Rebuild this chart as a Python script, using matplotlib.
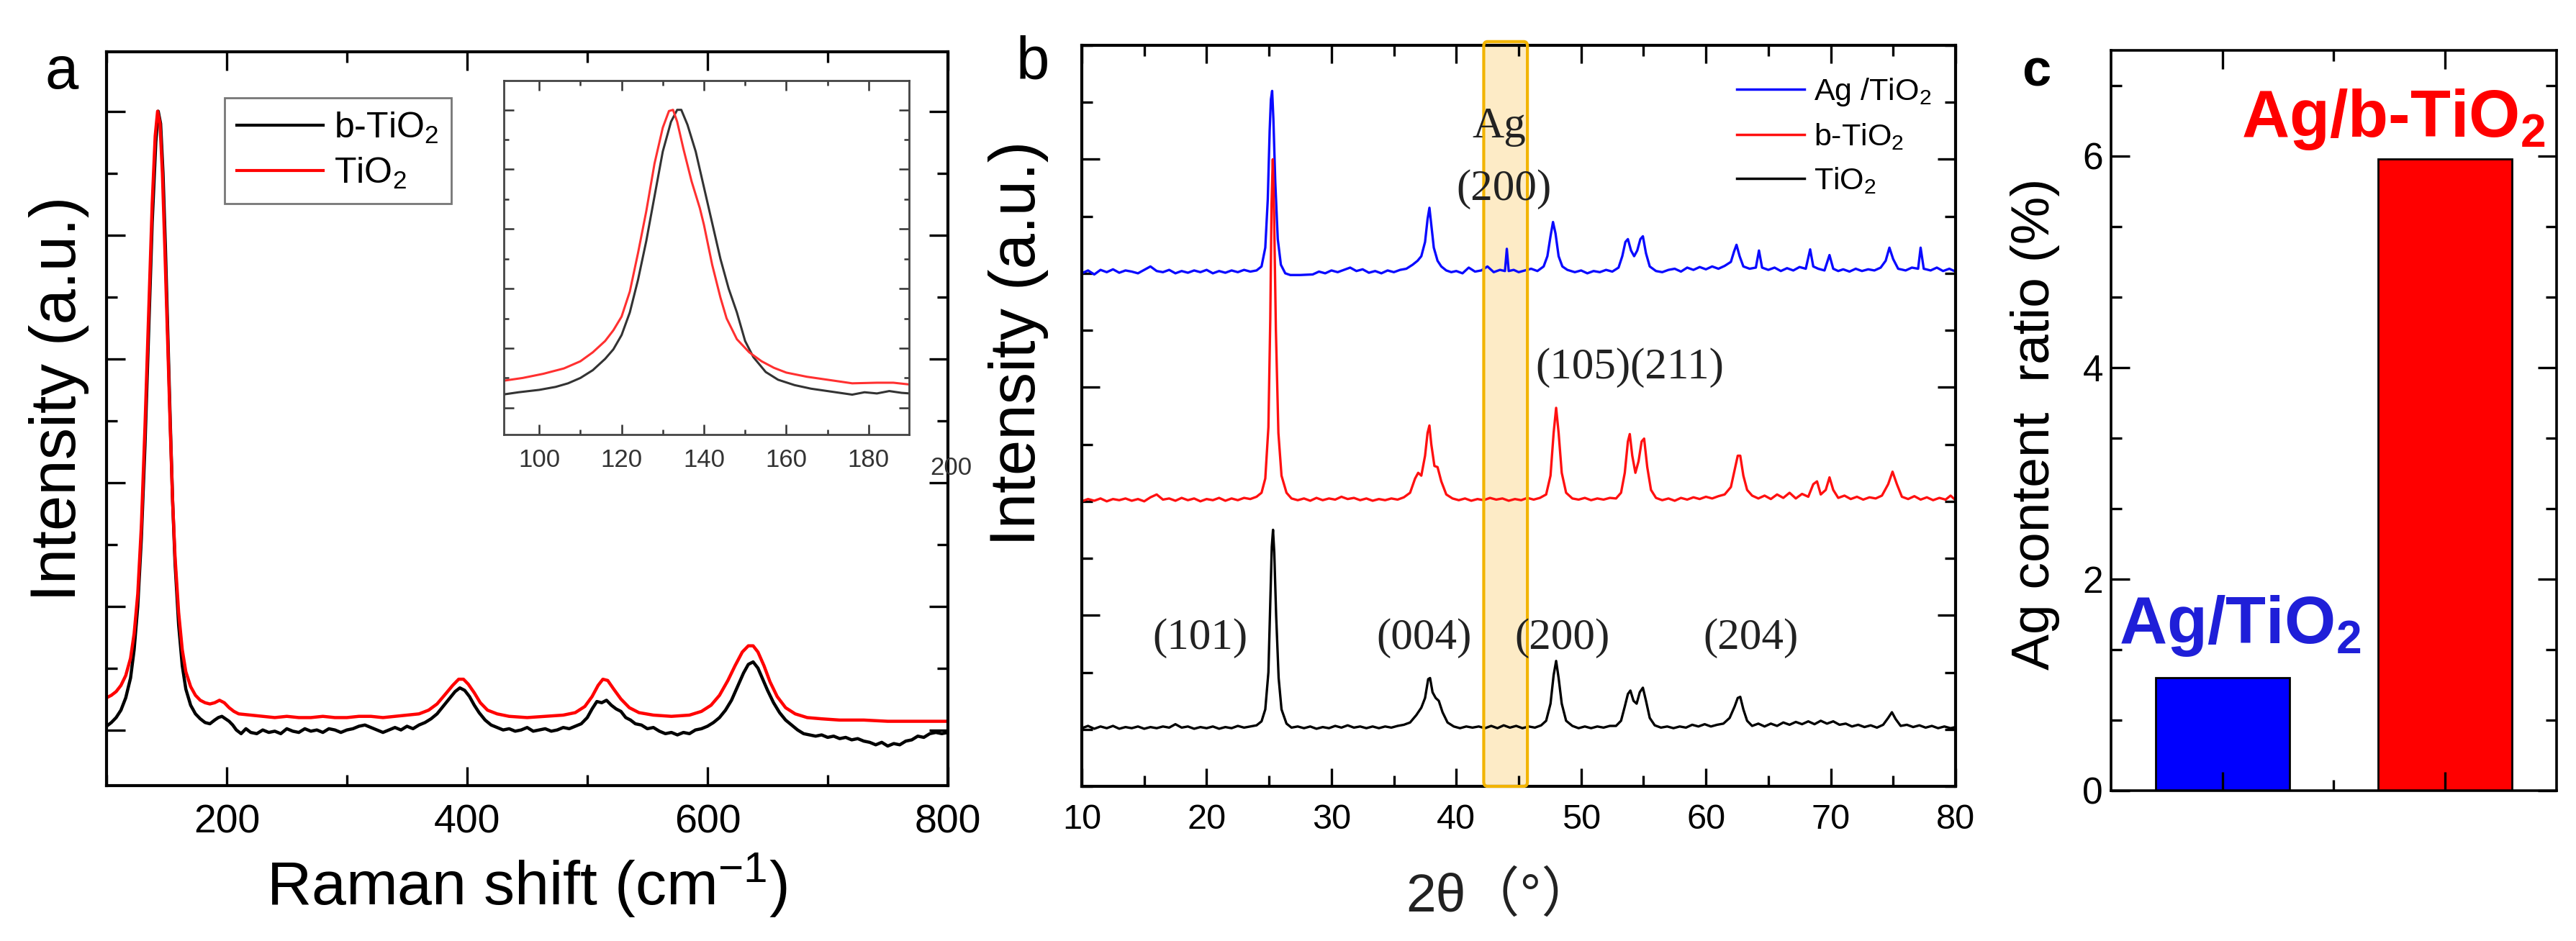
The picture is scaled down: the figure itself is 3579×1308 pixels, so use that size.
import numpy as np
import matplotlib
matplotlib.use('Agg')
import matplotlib.pyplot as plt
import matplotlib.transforms as mtransforms
from matplotlib.ticker import MultipleLocator, NullFormatter
from matplotlib.patches import FancyBboxPatch

plt.rcParams['font.family'] = ['Liberation Sans', 'Noto Sans CJK SC', 'DejaVu Sans']
plt.rcParams['mathtext.fontset'] = 'custom'
plt.rcParams['mathtext.rm'] = 'Liberation Sans'
plt.rcParams['mathtext.it'] = 'Liberation Sans:italic'
plt.rcParams['mathtext.bf'] = 'Liberation Sans:bold'

# ---------------- panel a : Raman ----------------
raman_x_b = [100, 104, 108, 112, 116, 120, 123, 126, 129, 132, 135, 138, 141, 143, 145, 147, 149, 151, 153, 155,
             157, 160, 163, 166, 170, 174, 178, 182, 186, 190, 193, 196, 199, 202, 205, 208, 212, 216, 220, 225,
             230, 235, 240, 245, 250, 255, 260, 265, 270, 275, 280, 285, 290, 295, 300, 305, 310, 315, 320, 325,
             330, 335, 340, 345, 350, 355, 360, 365, 370, 375, 380, 385, 390, 394, 398, 402, 406, 410, 415, 420,
             425, 430, 435, 440, 445, 450, 455, 460, 465, 470, 475, 480, 485, 490, 495, 500, 504, 508, 512, 516,
             520, 524, 528, 532, 536, 540, 545, 550, 555, 560, 565, 570, 575, 580, 585, 590, 595, 600, 605, 610,
             615, 620, 625, 630, 634, 638, 642, 646, 650, 655, 660, 665, 670, 675, 680, 685, 690, 695, 700, 705,
             710, 715, 720, 725, 730, 735, 740, 745, 750, 755, 760, 765, 770, 775, 780, 785, 790, 795, 800]
raman_y_b = [0.03, 0.06, 0.1, 0.16, 0.26, 0.42, 0.65, 1.0, 1.55, 2.3, 3.2, 4.1, 4.75, 5.0, 4.9, 4.5, 3.9, 3.2, 2.5, 1.85,
             1.35, 0.85, 0.52, 0.33, 0.2, 0.13, 0.09, 0.06, 0.05, 0.08, 0.1, 0.11, 0.09, 0.07, 0.04, 0.0, -0.03, 0.01, -0.02, -0.03,
             0.0, -0.02, -0.01, -0.03, 0.01, -0.01, -0.02, 0.01, -0.01, 0.0, -0.02, 0.01, 0.0, -0.02, 0.0, 0.01, 0.03, 0.04, 0.02, 0.0,
             -0.02, 0.0, 0.02, 0.0, 0.03, 0.01, 0.04, 0.06, 0.09, 0.13, 0.19, 0.25, 0.31, 0.34, 0.32, 0.27, 0.2, 0.14, 0.08, 0.04,
             0.02, 0.0, 0.01, -0.01, 0.0, 0.02, -0.01, 0.0, 0.01, -0.01, 0.0, 0.02, 0.01, 0.03, 0.05, 0.1, 0.17, 0.23, 0.22, 0.24,
             0.2, 0.17, 0.15, 0.1, 0.08, 0.05, 0.04, 0.01, 0.02, -0.01, -0.03, -0.02, -0.04, -0.02, -0.03, 0.0, 0.01, 0.03, 0.06, 0.1,
             0.16, 0.24, 0.35, 0.46, 0.53, 0.55, 0.5, 0.41, 0.32, 0.22, 0.14, 0.08, 0.04, 0.0, -0.03, -0.04, -0.05, -0.04, -0.06, -0.05,
             -0.07, -0.06, -0.08, -0.07, -0.09, -0.1, -0.12, -0.1, -0.13, -0.11, -0.12, -0.09, -0.08, -0.05, -0.06, -0.03, -0.02, -0.03, -0.02]

raman_x_t = [100, 104, 108, 112, 116, 120, 123, 126, 129, 132, 135, 138, 140.5, 142.5, 144.5, 146.5, 148.5, 151, 153, 155,
             157, 160, 163, 166, 170, 174, 178, 182, 186, 190, 194, 198, 202, 206, 210, 220, 230, 240, 250, 260,
             270, 280, 290, 300, 310, 320, 330, 340, 350, 360, 368, 375, 382, 388, 393, 397, 401, 406, 411, 417,
             425, 435, 450, 465, 480, 490, 498, 504, 509, 513, 517, 522, 528, 535, 543, 555, 570, 585, 595, 603,
             610, 617, 623, 629, 634, 638, 642, 647, 652, 658, 665, 673, 683, 695, 710, 730, 750, 770, 790, 800]
raman_y_t = [0.26, 0.28, 0.31, 0.36, 0.44, 0.58, 0.78, 1.1, 1.65, 2.45, 3.35, 4.25, 4.8, 5.0, 4.9, 4.5, 3.9, 3.1, 2.45, 1.85,
             1.4, 0.95, 0.65, 0.47, 0.35, 0.28, 0.24, 0.22, 0.21, 0.22, 0.24, 0.22, 0.18, 0.15, 0.13, 0.12, 0.11, 0.1, 0.11, 0.1,
             0.1, 0.11, 0.1, 0.1, 0.11, 0.11, 0.1, 0.11, 0.12, 0.13, 0.16, 0.21, 0.29, 0.36, 0.41, 0.41, 0.37, 0.3, 0.22, 0.16,
             0.13, 0.11, 0.1, 0.11, 0.12, 0.14, 0.19, 0.27, 0.36, 0.41, 0.4, 0.33, 0.25, 0.18, 0.14, 0.12, 0.11, 0.12, 0.15, 0.2,
             0.28, 0.4, 0.52, 0.63, 0.68, 0.68, 0.63, 0.52, 0.39, 0.27, 0.18, 0.13, 0.1, 0.09, 0.08, 0.08, 0.07, 0.07, 0.07, 0.07]

# inset (zoom on the 144 cm-1 band)
inset_x_b = [91, 95, 100, 104, 107, 110, 113, 116, 118, 120, 122, 124, 126, 128, 130, 132, 133.5, 134.5, 136, 138,
             140, 142, 144, 146, 148, 150, 152, 155, 158, 162, 166, 170, 173, 176, 179, 182, 185, 188, 190]
inset_y_b = [0.22, 0.26, 0.3, 0.35, 0.41, 0.5, 0.63, 0.82, 0.98, 1.22, 1.6, 2.15, 2.8, 3.55, 4.3, 4.8, 5.0, 5.0, 4.75, 4.3,
             3.7, 3.1, 2.5, 2.0, 1.6, 1.12, 0.85, 0.6, 0.47, 0.38, 0.32, 0.28, 0.25, 0.22, 0.26, 0.24, 0.28, 0.25, 0.24]
inset_x_t = [91, 96, 101, 106, 110, 113, 116, 118, 120, 122, 124, 126, 128, 130, 131.5, 132.5, 133.5, 135, 137, 139,
             140, 142, 144, 145.5, 148, 151, 154, 157, 160, 165, 170, 176, 182, 186, 190]
inset_y_t = [0.45, 0.5, 0.57, 0.66, 0.78, 0.93, 1.12, 1.3, 1.53, 1.95, 2.6, 3.3, 4.1, 4.7, 4.98, 5.0, 4.8, 4.35, 3.8, 3.35,
             3.07, 2.4, 1.85, 1.5, 1.15, 0.93, 0.78, 0.67, 0.59, 0.52, 0.47, 0.41, 0.42, 0.42, 0.39]

# ---------------- panel b : XRD ----------------
xrd_x_ag = [10, 10.5, 11, 11.5, 12, 12.5, 13, 13.5, 14, 14.5, 15, 15.5, 16, 16.5, 17, 17.5, 18, 18.5, 19, 19.5,
            20, 20.5, 21, 21.5, 22, 22.5, 23, 23.5, 24, 24.4, 24.7, 24.9, 25.05, 25.15, 25.25, 25.35, 25.5, 25.7, 25.95, 26.3,
            26.7, 27.5, 28.5, 29, 29.5, 30, 30.5, 31, 31.5, 32, 32.5, 33, 33.5, 34, 34.5, 35, 35.5, 36, 36.5, 36.9,
            37.2, 37.5, 37.7, 37.85, 38.0, 38.2, 38.5, 38.8, 39.2, 39.6, 40, 40.5, 41, 41.5, 42, 42.5, 43, 43.5, 43.9, 44.05,
            44.2, 44.6, 45, 45.5, 46, 46.5, 47, 47.3, 47.55, 47.75, 47.95, 48.2, 48.5, 48.9, 49.5, 50, 50.5, 51, 51.5, 52,
            52.5, 53, 53.3, 53.55, 53.75, 54.0, 54.25, 54.5, 54.75, 54.95, 55.2, 55.5, 56, 56.5, 57, 57.5, 58, 58.5, 59, 59.5,
            60, 60.5, 61, 61.5, 62, 62.25, 62.45, 62.7, 63.0, 63.5, 64.0, 64.25, 64.5, 65, 65.5, 66, 66.5, 67, 67.5, 68,
            68.35, 68.6, 69, 69.5, 69.9, 70.2, 70.6, 71, 71.5, 72, 72.5, 73, 73.5, 74, 74.4, 74.7, 75.0, 75.4, 76, 76.5,
            77, 77.2, 77.45, 78, 78.5, 79, 79.5, 80]
xrd_y_ag = [0.0, 0.05, -0.02, 0.06, 0.02, 0.07, 0.01, 0.05, 0.03, 0.0, 0.06, 0.12, 0.04, 0.02, 0.06, 0.0, 0.04, 0.01, 0.05, 0.02,
            0.06, 0.0, 0.04, 0.01, 0.05, 0.02, 0.06, 0.03, 0.05, 0.12, 0.45, 1.3, 2.5, 3.05, 3.2, 2.7, 1.6, 0.6, 0.15, 0.0,
            -0.03, -0.03, -0.02, 0.03, 0.0, 0.05, 0.02, 0.06, 0.1, 0.04, 0.07, 0.01, 0.04, 0.0, 0.05, 0.02, 0.06, 0.08, 0.15, 0.22,
            0.3, 0.55, 0.95, 1.15, 0.85, 0.45, 0.22, 0.12, 0.05, 0.02, 0.04, 0.0, 0.1, 0.03, 0.05, 0.12, 0.02, 0.06, 0.04, 0.43,
            0.04, 0.06, 0.02, 0.05, 0.08, 0.04, 0.12, 0.3, 0.65, 0.9, 0.7, 0.3, 0.12, 0.06, 0.02, 0.05, 0.0, 0.04, 0.02, 0.06,
            0.03, 0.1, 0.3, 0.55, 0.6, 0.4, 0.3, 0.4, 0.6, 0.65, 0.35, 0.12, 0.04, 0.02, 0.06, 0.08, 0.03, 0.1, 0.06, 0.11,
            0.07, 0.12, 0.08, 0.13, 0.2, 0.38, 0.5, 0.3, 0.12, 0.08, 0.1, 0.4, 0.1, 0.06, 0.1, 0.04, 0.09, 0.05, 0.11, 0.08,
            0.42, 0.12, 0.08, 0.05, 0.32, 0.08, 0.04, 0.07, 0.03, 0.08, 0.04, 0.07, 0.05, 0.1, 0.22, 0.45, 0.25, 0.08, 0.05, 0.1,
            0.08, 0.45, 0.08, 0.05, 0.1, 0.04, 0.08, 0.03]

xrd_x_btio2 = [10, 10.5, 11, 11.5, 12, 12.5, 13, 13.5, 14, 14.5, 15, 15.5, 16, 16.5, 17, 17.5, 18, 18.5, 19, 19.5,
               20, 20.5, 21, 21.5, 22, 22.5, 23, 23.5, 24, 24.4, 24.7, 24.95, 25.1, 25.2, 25.3, 25.4, 25.55, 25.75, 26.0, 26.4,
               26.8, 27.3, 27.8, 28.3, 28.8, 29.3, 29.8, 30.3, 30.8, 31.3, 31.8, 32.3, 32.8, 33.3, 33.8, 34.3, 34.8, 35.3, 35.8, 36.3,
               36.7, 36.95, 37.2, 37.5, 37.7, 37.85, 38.0, 38.25, 38.5, 38.8, 39.2, 39.7, 40.2, 40.7, 41.2, 41.7, 42.2, 42.7, 43.2, 43.7,
               44.2, 44.7, 45.2, 45.7, 46.2, 46.7, 47.2, 47.55, 47.8, 48.0, 48.2, 48.45, 48.8, 49.3, 49.8, 50.3, 50.8, 51.3, 51.8, 52.3,
               52.8, 53.2, 53.5, 53.75, 53.9, 54.1, 54.35, 54.6, 54.85, 55.05, 55.3, 55.6, 56.0, 56.5, 57, 57.5, 58, 58.5, 59, 59.5,
               60, 60.5, 61, 61.5, 62, 62.3, 62.55, 62.75, 63.0, 63.3, 63.7, 64.2, 64.7, 65.2, 65.7, 66.2, 66.7, 67.2, 67.7, 68.2,
               68.6, 68.9, 69.2, 69.6, 69.9, 70.2, 70.6, 71.1, 71.6, 72.1, 72.6, 73.1, 73.6, 74.1, 74.6, 74.95, 75.3, 75.7, 76.2, 76.7,
               77.2, 77.7, 78.2, 78.7, 79.2, 79.6, 80]
xrd_y_btio2 = [0.0, 0.04, 0.01, 0.05, 0.0, 0.04, 0.02, 0.05, 0.01, 0.04, 0.0, 0.07, 0.12, 0.03, 0.05, 0.01, 0.06, 0.02, 0.05, 0.0,
               0.04, 0.02, 0.06, 0.01, 0.05, 0.02, 0.06, 0.04, 0.08, 0.15, 0.4, 1.3, 3.2, 5.2, 6.0, 5.1, 3.0, 1.2, 0.45, 0.15,
               0.05, 0.02, 0.05, 0.01, 0.06, 0.02, 0.05, 0.03, 0.08, 0.04, 0.06, 0.02, 0.05, 0.01, 0.04, 0.02, 0.05, 0.03, 0.07, 0.15,
               0.4, 0.5, 0.45, 0.8, 1.2, 1.33, 1.0, 0.62, 0.6, 0.35, 0.12, 0.05, 0.02, 0.05, 0.01, 0.04, 0.02, 0.06, 0.03, 0.05,
               0.01, 0.04, 0.02, 0.06, 0.03, 0.06, 0.12, 0.45, 1.2, 1.64, 1.2, 0.5, 0.15, 0.05, 0.03, 0.06, 0.02, 0.05, 0.03, 0.06,
               0.05, 0.15, 0.5, 1.05, 1.18, 0.8, 0.5, 0.7, 1.05, 1.1, 0.6, 0.2, 0.06, 0.02, 0.05, 0.01, 0.06, 0.03, 0.07, 0.04,
               0.08, 0.05, 0.09, 0.12, 0.25, 0.55, 0.8, 0.8, 0.45, 0.2, 0.1, 0.05, 0.1, 0.04, 0.12, 0.06, 0.15, 0.05, 0.13, 0.08,
               0.3, 0.35, 0.12, 0.2, 0.42, 0.2, 0.06, 0.1, 0.04, 0.08, 0.03, 0.07, 0.05, 0.1, 0.3, 0.52, 0.3, 0.08, 0.04, 0.09,
               0.03, 0.07, 0.02, 0.06, 0.03, 0.1, 0.02]

xrd_x_tio2 = [10, 10.5, 11, 11.5, 12, 12.5, 13, 13.5, 14, 14.5, 15, 15.5, 16, 16.5, 17, 17.5, 18, 18.5, 19, 19.5,
              20, 20.5, 21, 21.5, 22, 22.5, 23, 23.5, 24, 24.4, 24.7, 24.95, 25.1, 25.22, 25.32, 25.42, 25.57, 25.77, 26.0, 26.4,
              26.8, 27.3, 27.8, 28.3, 28.8, 29.3, 29.8, 30.3, 30.8, 31.3, 31.8, 32.3, 32.8, 33.3, 33.8, 34.3, 34.8, 35.3, 35.8, 36.3,
              36.8, 37.2, 37.5, 37.75, 37.9, 38.1, 38.35, 38.6, 38.9, 39.3, 39.8, 40.3, 40.8, 41.3, 41.8, 42.3, 42.8, 43.3, 43.8, 44.3,
              44.8, 45.3, 45.8, 46.3, 46.8, 47.2, 47.55, 47.8, 48.0, 48.2, 48.45, 48.8, 49.3, 49.8, 50.3, 50.8, 51.3, 51.8, 52.3, 52.8,
              53.2, 53.5, 53.75, 53.95, 54.2, 54.45, 54.7, 54.95, 55.2, 55.5, 55.9, 56.4, 56.9, 57.4, 57.9, 58.4, 58.9, 59.4, 59.9, 60.4,
              60.9, 61.4, 61.9, 62.3, 62.55, 62.75, 63.0, 63.3, 63.7, 64.2, 64.7, 65.2, 65.7, 66.2, 66.7, 67.2, 67.7, 68.2, 68.7, 69.2,
              69.7, 70.2, 70.7, 71.2, 71.7, 72.2, 72.7, 73.2, 73.7, 74.2, 74.6, 74.9, 75.2, 75.6, 76.1, 76.6, 77.1, 77.6, 78.1, 78.6,
              79.1, 79.6, 80]
xrd_y_tio2 = [0.02, 0.06, 0.01, 0.05, 0.02, 0.06, 0.01, 0.04, 0.02, 0.05, 0.01, 0.04, 0.02, 0.05, 0.03, 0.09, 0.03, 0.05, 0.01, 0.04,
              0.02, 0.05, 0.01, 0.04, 0.02, 0.06, 0.03, 0.05, 0.07, 0.14, 0.35, 1.0, 2.2, 3.2, 3.5, 3.1, 2.0, 0.9, 0.35, 0.1,
              0.03, 0.05, 0.02, 0.05, 0.01, 0.04, 0.02, 0.06, 0.03, 0.07, 0.03, 0.05, 0.02, 0.05, 0.02, 0.05, 0.03, 0.06, 0.08, 0.12,
              0.25, 0.38, 0.55, 0.88, 0.9, 0.65, 0.55, 0.5, 0.3, 0.12, 0.05, 0.02, 0.05, 0.03, 0.05, 0.02, 0.06, 0.02, 0.07, 0.03,
              0.06, 0.02, 0.05, 0.03, 0.07, 0.15, 0.45, 0.95, 1.2, 0.9, 0.45, 0.15, 0.06, 0.02, 0.05, 0.02, 0.05, 0.03, 0.06, 0.06,
              0.15, 0.4, 0.62, 0.68, 0.5, 0.45, 0.65, 0.73, 0.5, 0.2, 0.07, 0.03, 0.05, 0.02, 0.05, 0.03, 0.08, 0.05, 0.09, 0.05,
              0.08, 0.1, 0.2, 0.4, 0.55, 0.57, 0.35, 0.15, 0.06, 0.1, 0.05, 0.1, 0.06, 0.12, 0.08, 0.13, 0.09, 0.14, 0.09, 0.15,
              0.1, 0.14, 0.08, 0.1, 0.05, 0.08, 0.04, 0.07, 0.03, 0.08, 0.2, 0.3, 0.18, 0.06, 0.08, 0.04, 0.07, 0.03, 0.06, 0.02,
              0.05, 0.02, 0.04]

xrd_offsets = [8, 4, 0]
xrd_labels = ['Ag /TiO$_2$', 'b-TiO$_2$', 'TiO$_2$']
xrd_colors = ['#0a0aff', '#ff1010', 'black']
ag_band = (42.2, 45.7)
hkl_labels = ['(101)', '(004)', '(200)', '(204)']
hkl_x = [19.5, 37.4, 48.5, 63.6]

# ---------------- panel c : Ag content ----------------
samples = ['Ag/TiO$_{\\mathbf{2}}$', 'Ag/b-TiO$_{\\mathbf{2}}$']
ag_ratio = [1.07, 5.97]
bar_colors = ['#0000ff', '#ff0000']
text_colors = ['#1f1fd8', '#ff0000']

fig = plt.figure(figsize=(35.79, 13.08), dpi=100)

# ===== a =====
axa = fig.add_axes([0.04135, 0.1651, 0.3266, 0.7798])
axa.plot(raman_x_b, raman_y_b, color='black', lw=3.2, label='b-TiO$_2$')
axa.plot(raman_x_t, raman_y_t, color='#ff0000', lw=3.2, label='TiO$_2$')
axa.set_xlim(100, 800)
axa.set_ylim(-0.45, 5.48)
axa.xaxis.set_major_locator(MultipleLocator(200))
axa.xaxis.set_minor_locator(MultipleLocator(100))
axa.yaxis.set_major_locator(MultipleLocator(1))
axa.yaxis.set_minor_locator(MultipleLocator(0.5))
axa.yaxis.set_major_formatter(NullFormatter())
axa.tick_params(which='both', direction='in', top=True, right=True, width=2.4)
axa.tick_params(which='major', length=19, labelsize=40, pad=18)
axa.tick_params(which='minor', length=11)
for s in axa.spines.values():
    s.set_linewidth(3)
axa.text(-0.0565, 0.527, 'Intensity (a.u.)', transform=axa.transAxes, rotation=90,
         ha='center', va='center', fontsize=64)
axa.text(0.4996, -0.136, 'Raman shift (cm$^{-1}$)', transform=axa.transAxes,
         ha='center', va='center', fontsize=62)
leg = axa.legend(loc='upper left', bbox_to_anchor=(0.140, 0.937), borderaxespad=0, fontsize=36,
                 handlelength=2.4, handletextpad=0.3, labelspacing=0.3, borderpad=0.35,
                 fancybox=False, framealpha=1)
leg.get_frame().set_edgecolor('#777777')
leg.get_frame().set_linewidth(2)
for ln in leg.get_lines():
    ln.set_linewidth(3)

# inset
axi = fig.add_axes([0.19558, 0.5382, 0.1573, 0.3761])
axi.plot(inset_x_b, inset_y_b, color='#333333', lw=2.2)
axi.plot(inset_x_t, inset_y_t, color='#ff3030', lw=2.2)
axi.set_xlim(91.4, 189.8)
axi.set_ylim(-0.45, 5.49)
axi.xaxis.set_major_locator(MultipleLocator(20))
axi.xaxis.set_minor_locator(MultipleLocator(10))
axi.yaxis.set_major_locator(MultipleLocator(1))
axi.yaxis.set_minor_locator(MultipleLocator(0.5))
axi.yaxis.set_major_formatter(NullFormatter())
axi.tick_params(which='both', direction='in', top=True, right=True, width=1.8, colors='#333333')
axi.tick_params(which='major', length=10, labelsize=25, pad=14, labelcolor='#333333')
axi.tick_params(which='minor', length=5)
for s in axi.spines.values():
    s.set_linewidth(2)
    s.set_color('#444444')
axi.text(200, -0.0935, '200', transform=mtransforms.blended_transform_factory(axi.transData, axi.transAxes),
         ha='center', va='center', fontsize=25, color='#333333', clip_on=False)

# ===== b =====
axb = fig.add_axes([0.41995, 0.16437, 0.3392, 0.7875])
xrd_x = [xrd_x_ag, xrd_x_btio2, xrd_x_tio2]
xrd_y = [xrd_y_ag, xrd_y_btio2, xrd_y_tio2]
for xs, ys, off, lab, col in zip(xrd_x, xrd_y, xrd_offsets, xrd_labels, xrd_colors):
    axb.plot(xs, np.array(ys) + off, color=col, lw=2.4, label=lab, zorder=2)
axb.set_xlim(10, 80)
axb.set_ylim(-1, 12)
axb.xaxis.set_major_locator(MultipleLocator(10))
axb.xaxis.set_minor_locator(MultipleLocator(5))
axb.yaxis.set_minor_locator(MultipleLocator(1))
axb.set_yticks([2, 6, 10])
axb.yaxis.set_major_formatter(NullFormatter())
axb.tick_params(which='both', direction='in', top=True, right=True, width=2.4)
axb.tick_params(which='major', length=18, labelsize=35, pad=17)
axb.tick_params(which='minor', length=11)
for s in axb.spines.values():
    s.set_linewidth(3)
trb = mtransforms.blended_transform_factory(axb.transData, axb.transAxes)
band_fill = FancyBboxPatch((ag_band[0], 0.0), ag_band[1] - ag_band[0], 1.005,
                           boxstyle='round,pad=0,rounding_size=0.3', transform=trb,
                           facecolor='#fdebc6', edgecolor='none', zorder=0.5, clip_on=False,
                           mutation_aspect=0.02)
band_edge = FancyBboxPatch((ag_band[0], 0.0), ag_band[1] - ag_band[0], 1.005,
                           boxstyle='round,pad=0,rounding_size=0.3', transform=trb,
                           facecolor='none', edgecolor='#f2b400', lw=3, zorder=3, clip_on=False,
                           mutation_aspect=0.02)
axb.add_patch(band_fill)
axb.add_patch(band_edge)
serif = 'Liberation Serif'
axb.text(43.4, 10.57, 'Ag', family=serif, fontsize=44, ha='center', va='center', color='#222222')
axb.text(43.8, 9.47, '(200)', family=serif, fontsize=44, ha='center', va='center', color='#222222')
axb.text(53.9, 6.34, '(105)(211)', family=serif, fontsize=44, ha='center', va='center', color='#222222')
for lab, xx in zip(hkl_labels, hkl_x):
    axb.text(xx, 1.6, lab, family=serif, fontsize=44, ha='center', va='center', color='#222222')
axb.text(0.479, -0.1485, '2θ（°）', transform=axb.transAxes, ha='center', va='center', fontsize=54,
         color='#222222')
axb.text(-0.0725, 0.598, 'Intensity (a.u.)', transform=axb.transAxes, rotation=90,
         ha='center', va='center', fontsize=64)
legb = axb.legend(loc='upper left', bbox_to_anchor=(0.735, 0.975), borderaxespad=0, fontsize=31,
                  frameon=False, handlelength=2.2, handletextpad=0.3, labelspacing=0.45)
for ln in legb.get_lines():
    ln.set_linewidth(2.5)

# ===== c =====
axc = fig.add_axes([0.8195, 0.15979, 0.17295, 0.7867])
pos = [1, 2]
axc.bar(pos, ag_ratio, width=0.6, color=bar_colors, edgecolor='black', lw=2)
axc.set_xlim(0.5, 2.5)
axc.set_ylim(0, 7)
axc.set_xticks(pos)
axc.set_xticks([1.5], minor=True)
axc.xaxis.set_major_formatter(NullFormatter())
axc.yaxis.set_major_locator(MultipleLocator(2))
axc.yaxis.set_minor_locator(MultipleLocator(2 / 3))
axc.tick_params(which='both', direction='in', top=True, right=True, width=2.4)
axc.tick_params(which='major', length=19, labelsize=37, pad=8)
axc.tick_params(which='minor', length=11)
for s in axc.spines.values():
    s.set_linewidth(2.6)
axc.text(1.08, 1.556, samples[0], color=text_colors[0], fontsize=66, fontweight='bold',
         ha='center', va='center')
axc.text(1.768, 6.345, samples[1], color=text_colors[1], fontsize=66, fontweight='bold',
         ha='center', va='center')
axc.text(-0.17, 0.495, 'Ag content  ratio (%)', transform=axc.transAxes, rotation=90,
         ha='center', va='center', fontsize=54)

# panel letters
fig.text(86 / 3579, 1 - 101 / 1308, 'a', fontsize=60, ha='center', va='center')
fig.text(1435 / 3579, 1 - 88 / 1308, 'b', fontsize=60, ha='center', va='center')
fig.text(2829 / 3579, 1 - 100 / 1308, 'c', fontsize=52, fontweight='bold', ha='center', va='center')

fig.savefig('out.png', dpi=100, facecolor='white')
